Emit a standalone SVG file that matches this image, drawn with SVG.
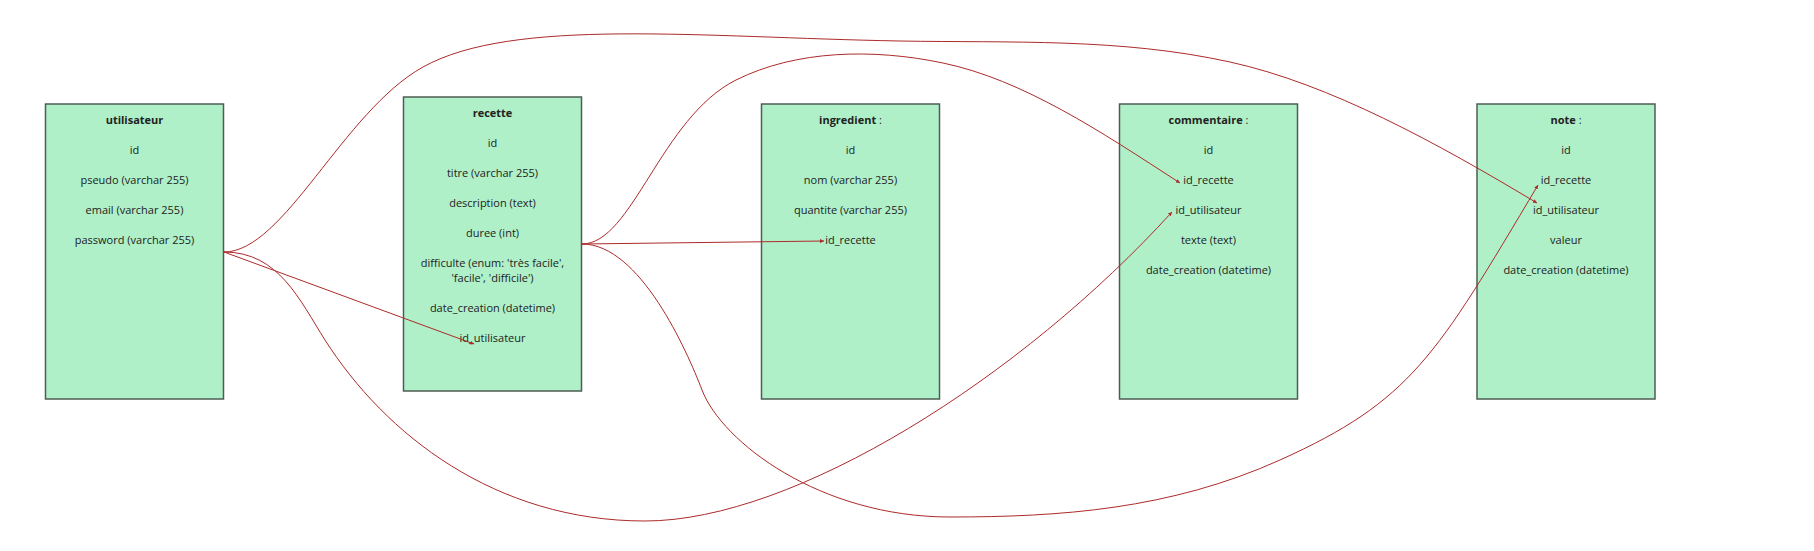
<svg xmlns="http://www.w3.org/2000/svg" width="1814" height="551" viewBox="0 0 1814 551">
<defs>
<style>
.box{fill:#aff0c8;stroke:#4d5d53;stroke-width:1.5}
text{font-family:"Open Sans","Noto Sans","DejaVu Sans",sans-serif;font-size:11px;fill:#222;text-anchor:middle}
.t{font-weight:bold}
.c{fill:none;stroke:#ad2a2a;stroke-width:1}
</style>
<marker id="arr" viewBox="0 0 6 6" refX="6" refY="3" markerWidth="4" markerHeight="4" markerUnits="userSpaceOnUse" orient="auto"><path d="M0,0 L6,3 L0,6 z" fill="#ad2a2a"/></marker>
</defs>
<rect width="1814" height="551" fill="#ffffff"/>
<g id="utilisateur">
<rect class="box" x="45.5" y="104" width="178" height="295"/>
<text x="134.5" y="124" class="t">utilisateur</text>
<text x="134.5" y="154">id</text>
<text x="134.5" y="184">pseudo (varchar 255)</text>
<text x="134.5" y="214">email (varchar 255)</text>
<text x="134.5" y="244">password (varchar 255)</text>
</g>
<g id="recette">
<rect class="box" x="403.5" y="97" width="178" height="294"/>
<text x="492.5" y="117" class="t">recette</text>
<text x="492.5" y="147">id</text>
<text x="492.5" y="177">titre (varchar 255)</text>
<text x="492.5" y="207">description (text)</text>
<text x="492.5" y="237">duree (int)</text>
<text x="492.5" y="267">difficulte (enum: 'très facile',</text>
<text x="492.5" y="282">'facile', 'difficile')</text>
<text x="492.5" y="312">date_creation (datetime)</text>
<text x="492.5" y="342">id_utilisateur</text>
</g>
<g id="ingredient">
<rect class="box" x="761.5" y="104" width="178" height="295"/>
<text x="850.5" y="124"><tspan class="t">ingredient</tspan> :</text>
<text x="850.5" y="154">id</text>
<text x="850.5" y="184">nom (varchar 255)</text>
<text x="850.5" y="214">quantite (varchar 255)</text>
<text x="850.5" y="244">id_recette</text>
</g>
<g id="commentaire">
<rect class="box" x="1119.5" y="104" width="178" height="295"/>
<text x="1208.5" y="124"><tspan class="t">commentaire</tspan> :</text>
<text x="1208.5" y="154">id</text>
<text x="1208.5" y="184">id_recette</text>
<text x="1208.5" y="214">id_utilisateur</text>
<text x="1208.5" y="244">texte (text)</text>
<text x="1208.5" y="274">date_creation (datetime)</text>
</g>
<g id="note">
<rect class="box" x="1477" y="104" width="178" height="295"/>
<text x="1566" y="124"><tspan class="t">note</tspan> :</text>
<text x="1566" y="154">id</text>
<text x="1566" y="184">id_recette</text>
<text x="1566" y="214">id_utilisateur</text>
<text x="1566" y="244">valeur</text>
<text x="1566" y="274">date_creation (datetime)</text>
</g>
<g id="connectors">
<path class="c" marker-end="url(#arr)" d="M224,252 L474,344"/>
<path class="c" marker-end="url(#arr)" d="M582,244 L824,241"/>
<path class="c" marker-end="url(#arr)" d="M224,252 C284,252 343,111.5 423,67 C513,17 700,37.4 900,41 C1010,43 1120,37.8 1230,62 C1330,84 1437,143 1537,203"/>
<path class="c" marker-end="url(#arr)" d="M582,244 C632,244 661,117.5 736,80 C796,50 873,48.3 943,63 C1023,79.8 1100,131 1180,183"/>
<path class="c" marker-end="url(#arr)" d="M224,252 C279,252 300,300.8 325,340 C385,434.2 495,521 645,521 C795,521 1022,377 1172,212"/>
<path class="c" marker-end="url(#arr)" d="M582,244 C640,244 687,351 702,390 C722,442 820,517 950,517 C1060,517 1170,509.5 1280,460 C1411,401 1436,356.4 1538,185"/>
</g>
</svg>
